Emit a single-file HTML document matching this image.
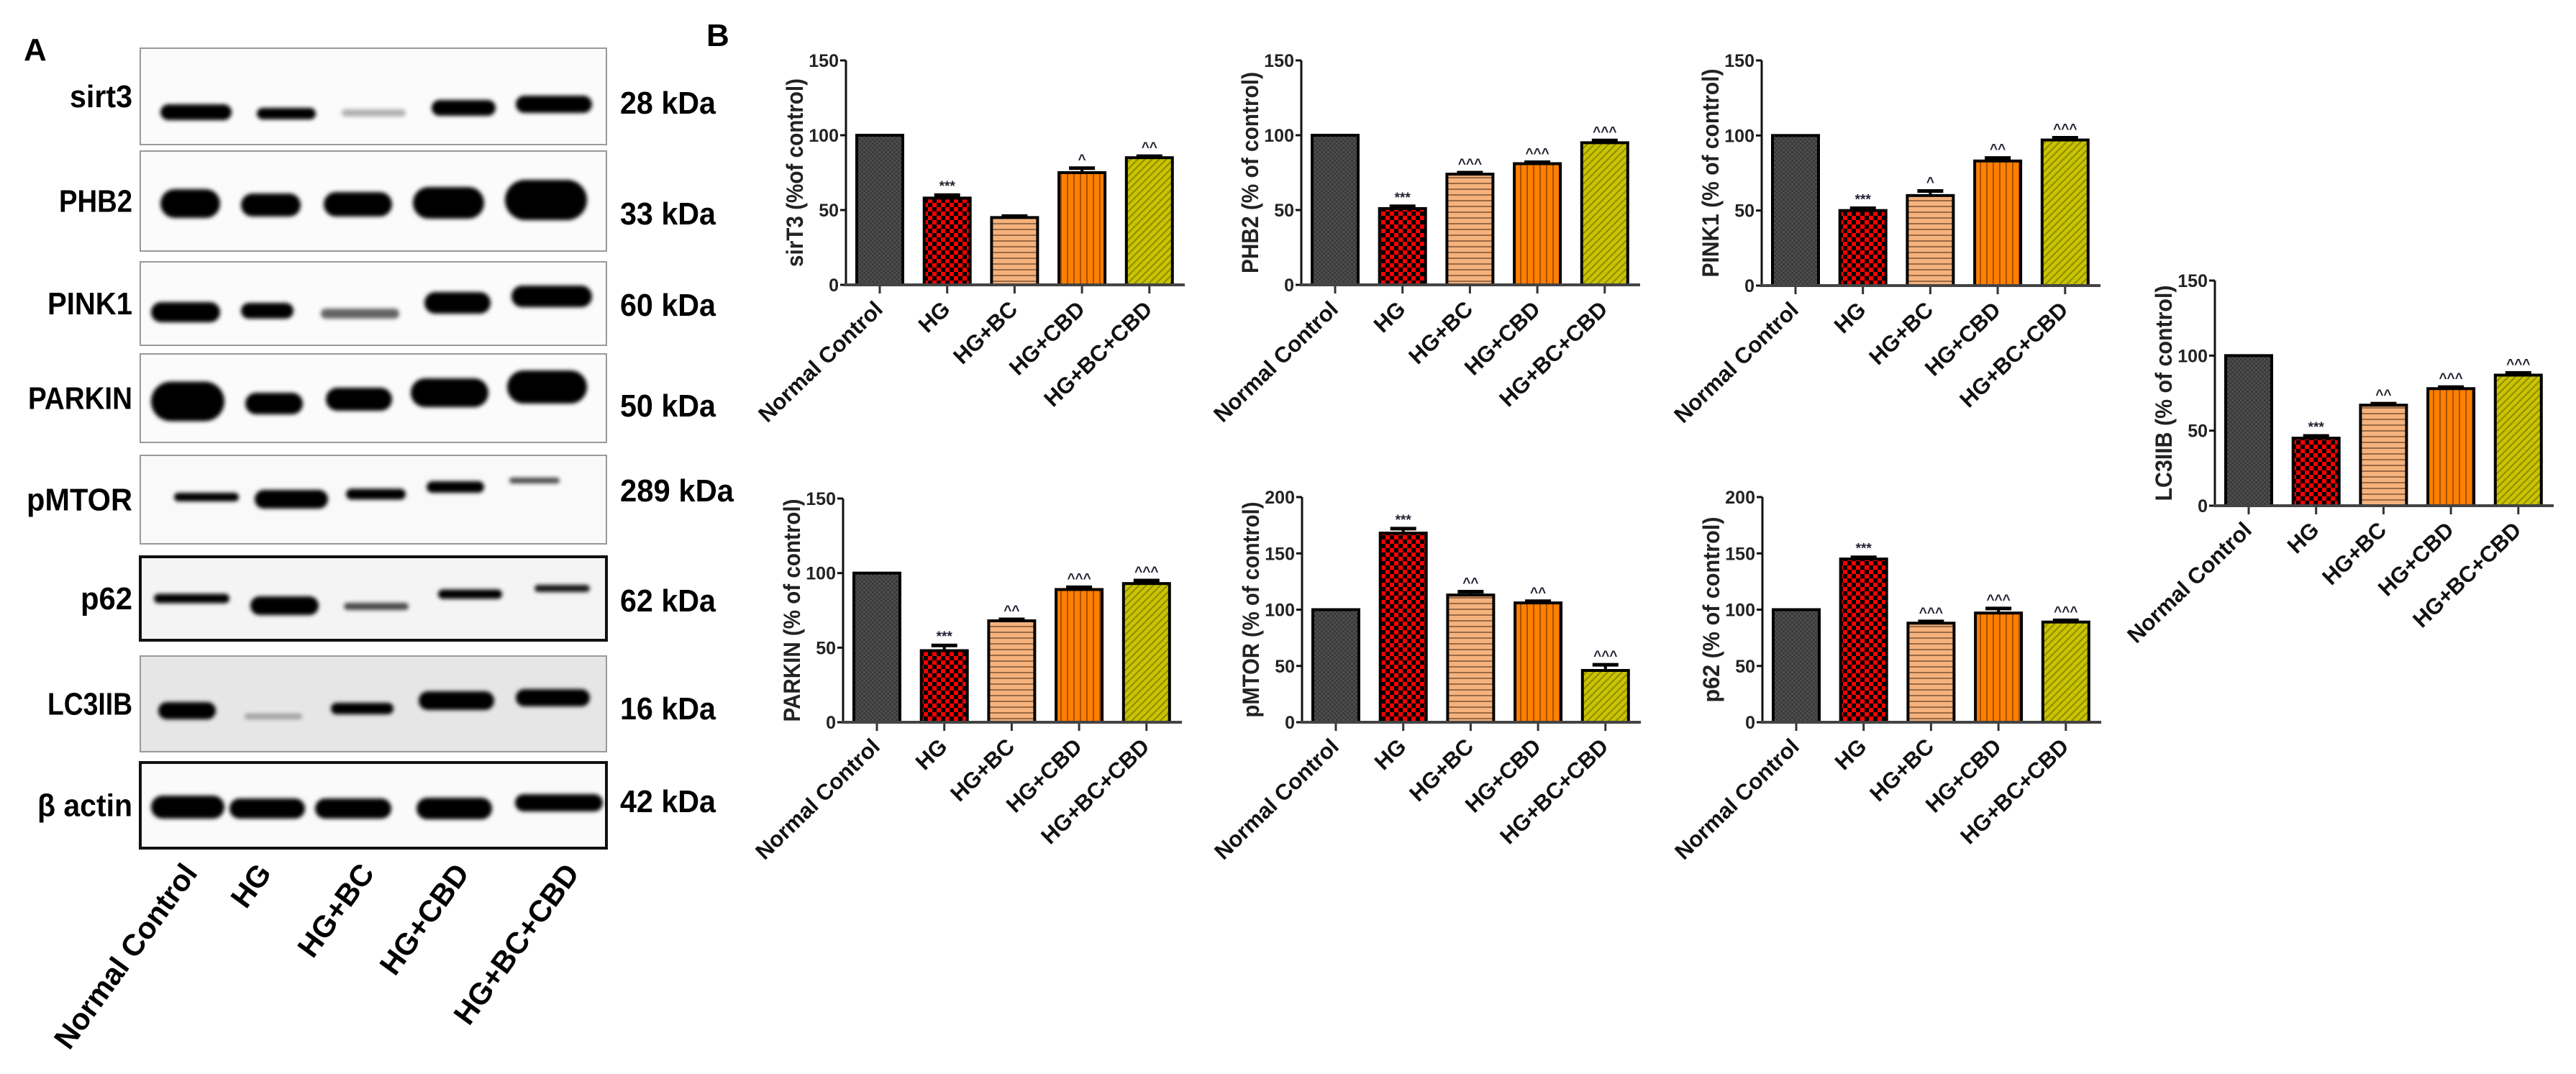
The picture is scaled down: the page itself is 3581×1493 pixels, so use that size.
<!DOCTYPE html>
<html><head><meta charset="utf-8"><style>
html,body{margin:0;padding:0;background:#fff;}
svg{display:block;font-family:"Liberation Sans",Arial,sans-serif;}
</style></head>
<body>
<svg id="fig" width="3581" height="1493" viewBox="0 0 3581 1493" xmlns="http://www.w3.org/2000/svg">
<defs>
  <pattern id="pNC" width="6" height="6" patternUnits="userSpaceOnUse"><rect width="6" height="6" fill="#4d4d4d"/><rect width="3" height="3" fill="#3a3a3a"/><rect x="3" y="3" width="3" height="3" fill="#3a3a3a"/></pattern>
  <pattern id="pHG" width="12" height="12" patternUnits="userSpaceOnUse"><rect width="12" height="12" fill="#ff0000"/><rect width="6" height="6" fill="#000"/><rect x="6" y="6" width="6" height="6" fill="#000"/></pattern>
  <pattern id="pBC" width="8" height="8" patternUnits="userSpaceOnUse"><rect width="8" height="8" fill="#f5b27d"/><rect y="6" width="8" height="2" fill="#9a6a45"/></pattern>
  <pattern id="pCBD" width="9" height="9" patternUnits="userSpaceOnUse"><rect width="9" height="9" fill="#ff7f00"/><rect x="7" width="2" height="9" fill="#a85000"/></pattern>
  <pattern id="pBCCBD" width="7" height="7" patternUnits="userSpaceOnUse" patternTransform="rotate(45)"><rect width="7" height="7" fill="#c9c400"/><rect width="2" height="7" fill="#8f8a00"/></pattern>
  <filter id="blur" x="-20%" y="-60%" width="140%" height="220%"><feGaussianBlur stdDeviation="3"/></filter>
</defs>
<text x="33" y="84" font-size="44" font-weight="bold">A</text>
<text x="982" y="64" font-size="44" font-weight="bold">B</text>
<g id="blot"></g>
<g id="charts"></g>
</svg>
<script>
var NS="http://www.w3.org/2000/svg";
function mk(tag,attrs,parent,txt){var e=document.createElementNS(NS,tag);for(var k in attrs)e.setAttribute(k,attrs[k]);if(txt!==undefined)e.textContent=txt;parent.appendChild(e);return e;}

/* ---------- Western blot panel ---------- */
var blot=document.getElementById('blot');
var blotRows=[
 {n:"sirt3",w:87,k:"28 kDa",kw:133,y1:67,y2:201,ky:143,bg:"#fbfbfb",bw:2,bc:"#999",
  b:[[223,322,156,22,1],[357,439,158,16,1],[475,564,157,10,0.3],[600,689,150,22,1],[717,823,145,24,1]]},
 {n:"PHB2",w:102,k:"33 kDa",kw:133,y1:210,y2:349,ky:297,bg:"#fbfbfb",bw:2,bc:"#999",
  b:[[223,306,283,40,1],[335,418,285,32,1],[450,545,284,34,1],[574,673,282,44,1],[702,816,278,56,1]]},
 {n:"PINK1",w:118,k:"60 kDa",kw:133,y1:364,y2:480,ky:424,bg:"#fbfbfb",bw:2,bc:"#999",
  b:[[210,306,434,28,1],[335,408,432,22,1],[446,555,436,14,0.6],[590,682,421,30,1],[711,823,412,30,1]]},
 {n:"PARKIN",w:145,k:"50 kDa",kw:133,y1:492,y2:615,ky:564,bg:"#fbfbfb",bw:2,bc:"#999",
  b:[[210,312,558,55,1],[341,421,561,30,1],[453,545,555,32,1],[571,679,546,40,1],[705,816,538,46,1]]},
 {n:"pMTOR",w:147,k:"289 kDa",kw:158,y1:633,y2:756,ky:682,bg:"#f9f9f9",bw:2,bc:"#999",
  b:[[242,332,691,12,1],[354,456,694,26,1],[481,564,687,15,1],[593,673,677,16,1],[708,778,668,8,0.7]]},
 {n:"p62",w:72,k:"62 kDa",kw:133,y1:774,y2:890,ky:835,bg:"#f4f4f4",bw:4,bc:"#111",
  b:[[214,319,832,13,1],[348,443,842,26,1],[478,568,843,10,0.7],[609,698,826,13,1],[743,820,818,10,0.9]]},
 {n:"LC3IIB",w:118,k:"16 kDa",kw:133,y1:912,y2:1045,ky:985,bg:"#e6e6e6",bw:2,bc:"#999",
  b:[[220,300,988,24,1],[340,420,996,8,0.3],[460,547,985,16,1],[582,687,974,26,1],[717,820,970,24,1]]},
 {n:"β actin",w:132,k:"42 kDa",kw:133,y1:1060,y2:1179,ky:1114,bg:"#fafafa",bw:4,bc:"#111",
  b:[[210,312,1122,32,1],[319,424,1124,28,1],[438,544,1124,28,1],[579,684,1124,30,1],[716,838,1116,24,1]]}
];
blotRows.forEach(function(r){
  var g=mk('g',{},blot);
  
  
  var box=mk('rect',{x:195,y:r.y1,width:648,height:r.y2-r.y1,fill:r.bg,stroke:r.bc,'stroke-width':r.bw},g);
  
  
  r.b.forEach(function(b){
    var band=mk('rect',{x:b[0],y:b[2]-b[3]/2,width:b[1]-b[0],height:b[3],rx:b[3]/2,fill:'#000','fill-opacity':b[4],filter:'url(#blur)'},g);
    
    
  });
  var lab=mk('text',{x:184-r.w,y:(r.y1+r.y2)/2+15,'font-size':44,'font-weight':'bold',textLength:r.w,lengthAdjust:'spacingAndGlyphs'},g,r.n);
  
  
  var kd=mk('text',{x:862,y:r.ky+15,'font-size':44,'font-weight':'bold',textLength:r.kw,lengthAdjust:'spacingAndGlyphs'},g,r.k);
  
  
});
var blotLanes=["Normal Control","HG","HG+BC","HG+CBD","HG+BC+CBD"];
var blotLaneEnds=[276,379,522,654,807];
blotLanes.forEach(function(t,i){
  var tx=mk('text',{x:0,y:0,'font-size':42,'font-weight':'bold','text-anchor':'end',transform:'translate('+blotLaneEnds[i]+',1214) rotate(-54)'},blot,t);
  
  
});

/* ---------- Bar chart data ---------- */
var categories=["Normal Control","HG","HG+BC","HG+CBD","HG+BC+CBD"];
var sirt3Values=[100,58,45,75,85];
var sirt3Errors=[0,2,1,3,1];
var sirt3Sig=["","***","","^","^^"];
var phb2Values=[100,51,74,81,95];
var phb2Errors=[0,1.5,1,1,1.5];
var phb2Sig=["","***","^^^","^^^","^^^"];
var pink1Values=[100,50,60,83,97];
var pink1Errors=[0,1.5,3,2,1.5];
var pink1Sig=["","***","^","^^","^^^"];
var lc3Values=[100,45,67,78,87];
var lc3Errors=[0,1.5,1,1,1.5];
var lc3Sig=["","***","^^","^^^","^^^"];
var parkinValues=[100,48,68,89,93];
var parkinErrors=[0,3.5,1,1.5,2];
var parkinSig=["","***","^^","^^^","^^^"];
var pmtorValues=[100,168,113,106,46];
var pmtorErrors=[0,4,3,1.5,5];
var pmtorSig=["","***","^^","^^","^^^"];
var p62Values=[100,145,88,97,89];
var p62Errors=[0,1.5,1.5,4,1.5];
var p62Sig=["","***","^^^","^^^","^^^"];
var ticks150=[0,50,100,150];
var ticks200=[0,50,100,150,200];

var fills=["url(#pNC)","url(#pHG)","url(#pBC)","url(#pCBD)","url(#pBCCBD)"];
var charts=[
 {id:"sirt3",title:"sirT3 (%of control)",tl:262,ax:1176,y0:396,yt:84,max:150,ticks:ticks150,v:sirt3Values,e:sirt3Errors,s:sirt3Sig},
 {id:"phb2",title:"PHB2 (% of control)",tl:280,ax:1809,y0:396,yt:84,max:150,ticks:ticks150,v:phb2Values,e:phb2Errors,s:phb2Sig},
 {id:"pink1",title:"PINK1 (% of control)",tl:290,ax:2449,y0:397,yt:84,max:150,ticks:ticks150,v:pink1Values,e:pink1Errors,s:pink1Sig},
 {id:"lc3iib",title:"LC3IIB (% of control)",tl:300,ax:3079,y0:703,yt:390,max:150,ticks:ticks150,v:lc3Values,e:lc3Errors,s:lc3Sig},
 {id:"parkin",title:"PARKIN (% of control)",tl:310,ax:1172,y0:1004,yt:693,max:150,ticks:ticks150,v:parkinValues,e:parkinErrors,s:parkinSig},
 {id:"pmtor",title:"pMTOR (% of control)",tl:300,ax:1810,y0:1004,yt:691,max:200,ticks:ticks200,v:pmtorValues,e:pmtorErrors,s:pmtorSig},
 {id:"p62",title:"p62 (% of control)",tl:258,ax:2450,y0:1004,yt:691,max:200,ticks:ticks200,v:p62Values,e:p62Errors,s:p62Sig}
];
var chartsG=document.getElementById('charts');
charts.forEach(function(c){
  var g=mk('g',{},chartsG);
  
  
  function yS(v){return c.y0-(v/c.max)*(c.y0-c.yt);}
  function xC(i){return c.ax+15+32+i*93.7;}
  var ya=mk('line',{x1:c.ax,y1:c.yt,x2:c.ax,y2:c.y0,stroke:'#111','stroke-width':3},g);
  
  
  c.ticks.forEach(function(t){
    var tl=mk('line',{x1:c.ax-8,y1:yS(t),x2:c.ax,y2:yS(t),stroke:'#111','stroke-width':3},g);
    
    
    var tt=mk('text',{x:c.ax-10,y:yS(t)+9,'font-size':25,'font-weight':'bold','text-anchor':'end',fill:'#222'},g,String(t));
    
    
  });
  var ym=(c.y0+c.yt)/2;
  var ti=mk('text',{x:-c.tl/2,y:0,'font-size':32,'font-weight':'bold',fill:'#222',textLength:c.tl,lengthAdjust:'spacingAndGlyphs',transform:'translate('+(c.ax-60)+','+ym+') rotate(-90)'},g,c.title);
  
  
  c.v.forEach(function(v,i){
    var cx=xC(i),top=yS(v);
    var b=mk('rect',{x:cx-32,y:top,width:64,height:c.y0-top,fill:fills[i],stroke:'#000','stroke-width':4},g);
    
    
    var et=yS(v+c.e[i]);
    if(c.e[i]>0){
      var el=mk('line',{x1:cx,y1:top,x2:cx,y2:et,stroke:'#000','stroke-width':4},g);
      
      
      var ec=mk('line',{x1:cx-18,y1:et,x2:cx+18,y2:et,stroke:'#000','stroke-width':5},g);
      
      
    }
    if(c.s[i]){
      var st=mk('text',{x:cx,y:et-6,'font-size':19,'font-weight':'bold','text-anchor':'middle',fill:'#223'},g,c.s[i]);
      
      
    }
    var xt=mk('line',{x1:cx,y1:c.y0,x2:cx,y2:c.y0+12,stroke:'#333','stroke-width':3},g);
    
    
    var cl=mk('text',{x:0,y:0,'font-size':31,'font-weight':'bold','text-anchor':'end',fill:'#111',transform:'translate('+(cx+6)+','+(c.y0+36)+') rotate(-44)'},g,categories[i]);
    
    
  });
  var xa=mk('line',{x1:c.ax-2,y1:c.y0,x2:c.ax+471,y2:c.y0,stroke:'#444','stroke-width':4},g);
  
  
});
</script>
</body></html>
